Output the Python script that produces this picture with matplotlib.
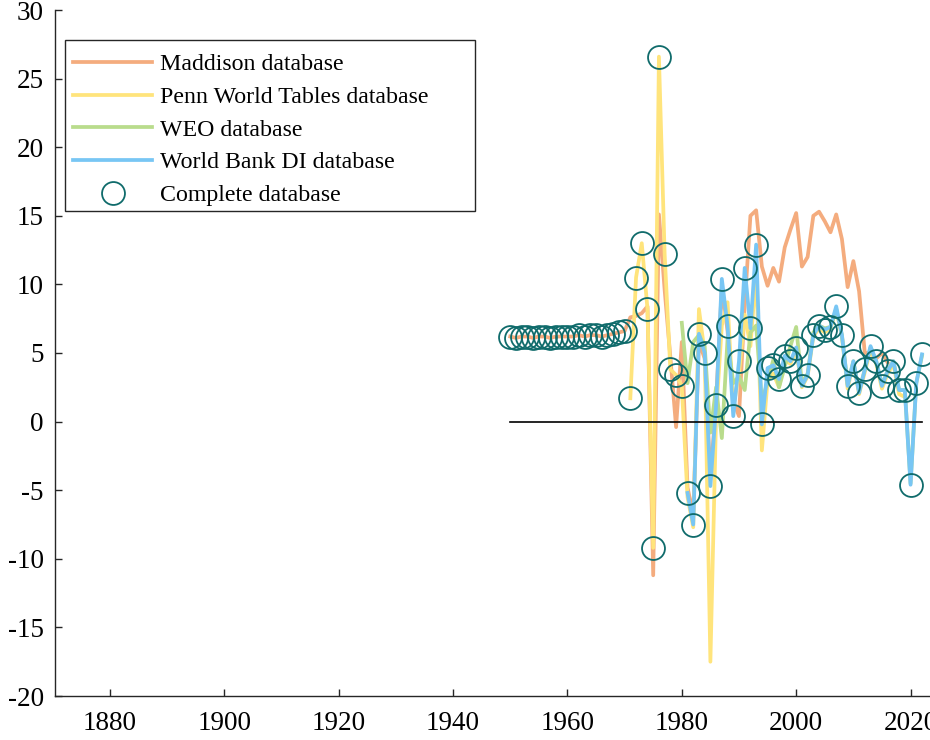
import numpy as np
import matplotlib
matplotlib.use("Agg")
import matplotlib.pyplot as plt
from matplotlib.patches import Rectangle

plt.rcParams['font.family'] = ['Liberation Serif', 'DejaVu Serif']
plt.rcParams['axes.unicode_minus'] = False

# growth rates (%)
maddison_years = list(range(1950, 2017))
maddison = [6.2, 6.1, 6.2, 6.2, 6.1, 6.2, 6.2, 6.1, 6.2, 6.2,
            6.2, 6.2, 6.3, 6.2, 6.3, 6.3, 6.2, 6.3, 6.4, 6.5,
            6.6, 7.6, 7.7, 7.9, 8.4, -11.2, 15.1, 9.6, 4.7, -0.4,
            5.8, -4.8, -6.8, 5.8, 4.6, -4.2, 1.5, 9.8, 6.6, 1.5,
            0.4, 8.5, 15.0, 15.4, 11.3, 9.9, 11.2, 10.2, 12.7, 14.0,
            15.2, 11.3, 12.0, 15.0, 15.3, 14.6, 13.8, 15.1, 13.3, 9.8,
            11.7, 9.5, 5.0, 5.0, 4.6, 5.0, 4.3]

penn_years = list(range(1971, 2020))
penn = [1.7, 10.5, 13.0, 8.2, -9.2, 26.6, 12.2, 3.8, 3.4,
        2.6, -5.5, -7.7, 8.2, 5.0, -17.5, 0.5, 7.0, 8.7, 1.0,
        3.5, 7.8, 5.5, 11.0, -2.1, 3.0, 3.5, 2.5, 4.5, 4.2,
        5.2, 2.5, 3.3, 6.2, 6.8, 6.5, 6.8, 8.2, 6.2, 2.4,
        4.3, 2.0, 3.6, 5.3, 4.2, 2.4, 3.5, 4.2, 2.0, 1.8]

weo_years = list(range(1980, 2023))
weo = [7.2, 2.8, 5.8, 6.3, 5.5, -0.8, 2.5, -1.2, 6.0, 2.8,
       3.3, 2.3, 6.5, 7.0, 1.5, 2.9, 4.5, 2.5, 4.0, 5.5,
       6.9, 2.8, 3.5, 6.5, 7.0, 6.8, 6.9, 8.2, 6.3, 2.7,
       4.4, 2.2, 3.8, 5.4, 4.4, 2.7, 3.7, 4.4, 2.3, 2.3,
       -4.5, 2.8, 4.8]

wb_years = list(range(1981, 2023))
wb = [-5.2, -7.5, 6.4, 5.0, -4.7, 1.2, 10.4, 7.0, 0.4,
      4.4, 11.2, 6.8, 12.9, -0.2, 3.9, 4.1, 3.1, 4.8, 4.4,
      5.4, 2.6, 3.4, 6.3, 7.0, 6.7, 6.9, 8.4, 6.3, 2.6,
      4.4, 2.1, 3.8, 5.5, 4.4, 2.6, 3.7, 4.4, 2.3, 2.3,
      -4.6, 2.8, 4.9]

# complete series: Maddison up to 1970, Penn 1971-1980, World Bank after
complete_years = list(range(1950, 2023))
complete = maddison[:21] + penn[:10] + wb

fig = plt.figure(figsize=(9.3, 7.4), dpi=100)
ax = fig.add_axes([55 / 930, 44 / 740, 875 / 930, 686 / 740])

lw = 2.7
ax.plot(maddison_years, maddison, color='#F4AC7E', lw=lw, label='Maddison database')
ax.plot(penn_years, penn, color='#FFE47C', lw=lw, label='Penn World Tables database')
ax.plot(weo_years, weo, color='#B9DC8C', lw=lw, label='WEO database')
ax.plot(wb_years, wb, color='#78C6F4', lw=lw, label='World Bank DI database')
ax.plot(complete_years, complete, 'o', ms=16.5, mfc='none', mec='#0F6B6B', mew=1.3,
        label='Complete database')
ax.plot([1950, 2022], [0, 0], color='black', lw=1.2)

ax.set_xlim(1870.4, 2023.4)
ax.set_ylim(-20, 30)
ax.set_xticks(np.arange(1880, 2021, 20))
ax.set_yticks(np.arange(-20, 31, 5))

for side in ['top', 'right']:
    ax.spines[side].set_visible(False)
for side in ['left', 'bottom']:
    ax.spines[side].set_color('#262626')
    ax.spines[side].set_linewidth(1.0)
ax.tick_params(direction='in', length=5, width=1, colors='#262626', labelcolor='black',
               labelsize=19.5)
ax.tick_params(axis='y', pad=8)
ax.tick_params(axis='x', pad=11)

# legend box drawn by hand (wider than matplotlib's own frame, like the original)
box = Rectangle((0.0114, 0.707), 0.4686, 0.2493, transform=ax.transAxes,
                facecolor='white', edgecolor='#262626', lw=1.0, zorder=4)
ax.add_patch(box)
leg = ax.legend(loc='upper left', bbox_to_anchor=(0.0114, 0.9487), borderaxespad=0,
                fontsize=17.2, frameon=False,
                handlelength=3.3, handletextpad=0.33, labelspacing=0.46,
                borderpad=0.35, numpoints=1)
leg.set_zorder(5)

fig.savefig('out.png', dpi=100)
